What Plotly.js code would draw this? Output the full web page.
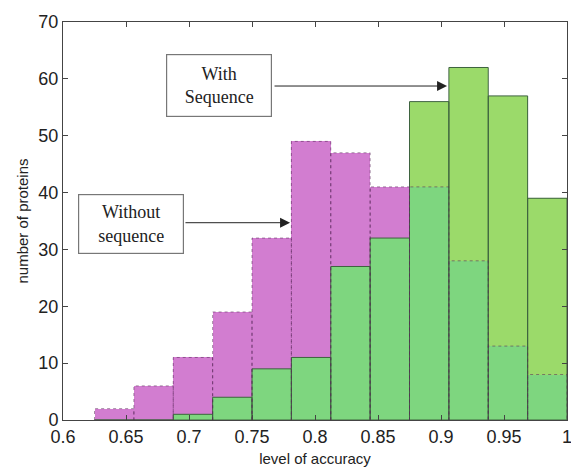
<!DOCTYPE html>
<html>
<head>
<meta charset="utf-8">
<script src="https://cdn.plot.ly/plotly-3.0.1.min.js"></script>
<style>html,body{margin:0;padding:0;background:#fff;}#chart{width:571px;height:468px;}</style>
</head>
<body>
<div id="chart"></div>
<script>
// ---- data ----
const accuracyBins = [0.640625, 0.671875, 0.703125, 0.734375, 0.765625, 0.796875, 0.828125, 0.859375, 0.890625, 0.921875, 0.953125, 0.984375];
const withoutSequence = [2, 6, 11, 19, 32, 49, 47, 41, 41, 28, 13, 8];
const withSequence = [0, 0, 1, 4, 9, 11, 27, 32, 56, 62, 57, 39];
const xTickVals = [0.6, 0.65, 0.7, 0.75, 0.8, 0.85, 0.9, 0.95, 1];
const xTickText = ['0.6', '0.65', '0.7', '0.75', '0.8', '0.85', '0.9', '0.95', '1'];
const yTickVals = [0, 10, 20, 30, 40, 50, 60, 70];
const yTickText = ['0', '10', '20', '30', '40', '50', '60', '70'];
const labelWith = 'With<br>Sequence';
const labelWithout = 'Without<br>sequence';

// ---- styles ----
const binWidth = 1 / 32;
const magenta = '#D27DD0';
const lightGreen = '#9BDA6A';
const midGreen = '#7ED67F';
const greenEdge = '#3E633F';
const axisColor = '#444';

const overlap = withSequence.map((v, i) => Math.min(v, withoutSequence[i]));

// dotted outline path for the "without sequence" bars
const ox = [], oy = [];
accuracyBins.forEach((c, i) => {
  const l = c - binWidth / 2, r = c + binWidth / 2, h = withoutSequence[i];
  ox.push(l, l, r, r, null);
  oy.push(0, h, h, 0, null);
});

const common = {type: 'bar', x: accuracyBins, width: binWidth, hoverinfo: 'skip', showlegend: false};
const traces = [
  Object.assign({}, common, {y: withoutSequence, marker: {color: magenta, line: {width: 0}}}),
  Object.assign({}, common, {y: withSequence, marker: {color: lightGreen, line: {width: 0}}}),
  Object.assign({}, common, {y: overlap, marker: {color: midGreen, line: {width: 0}}}),
  Object.assign({}, common, {y: withSequence, marker: {color: 'rgba(0,0,0,0)', line: {width: 1, color: greenEdge}}}),
  {type: 'scatter', mode: 'lines', x: ox, y: oy, hoverinfo: 'skip', showlegend: false, connectgaps: false,
   line: {color: 'rgba(90,40,90,0.55)', width: 1, dash: 'dot'}}
];

const boxFont = {family: 'Liberation Serif, Times New Roman, serif', size: 18, color: '#222'};
const layout = {
  width: 571, height: 468,
  margin: {l: 63, r: 4, t: 22, b: 48, pad: 0},
  paper_bgcolor: '#fff', plot_bgcolor: '#fff',
  barmode: 'overlay', bargap: 0,
  xaxis: {
    range: [0.6, 1], tickvals: xTickVals, ticktext: xTickText, ticklabeloverflow: 'allow',
    ticks: 'inside', ticklen: 5, tickcolor: axisColor, tickwidth: 1,
    showline: true, linecolor: axisColor, linewidth: 1, mirror: 'allticks',
    showgrid: false, zeroline: false,
    tickfont: {family: 'Liberation Sans, Arial, sans-serif', size: 18, color: '#222'},
    title: {text: 'level of accuracy', font: {family: 'Liberation Sans, Arial, sans-serif', size: 15, color: '#222'}, standoff: 7}
  },
  yaxis: {
    range: [0, 70], tickvals: yTickVals, ticktext: yTickText,
    ticks: 'inside', ticklen: 5, tickcolor: axisColor, tickwidth: 1,
    showline: true, linecolor: axisColor, linewidth: 1, mirror: 'allticks',
    showgrid: false, zeroline: false,
    tickfont: {family: 'Liberation Sans, Arial, sans-serif', size: 18, color: '#222'},
    title: {text: 'number of proteins', font: {family: 'Liberation Sans, Arial, sans-serif', size: 15, color: '#222'}, standoff: 6}
  },
  annotations: [
    {xref: 'x', yref: 'y', x: 0.9048, y: 58.74, ax: 0.7667, ay: 58.74, axref: 'x', ayref: 'y',
     text: '', showarrow: true, arrowhead: 2, arrowsize: 2, arrowwidth: 1, arrowcolor: '#222'},
    {xref: 'x', yref: 'y', x: 0.7802, y: 34.7, ax: 0.696, ay: 34.7, axref: 'x', ayref: 'y',
     text: '', showarrow: true, arrowhead: 2, arrowsize: 2, arrowwidth: 1, arrowcolor: '#222'},
    {xref: 'x', yref: 'y', x: 0.7238, y: 58.8, xanchor: 'center', yanchor: 'middle',
     text: labelWith, showarrow: false, font: boxFont, width: 104, height: 61, borderpad: 0,
     bordercolor: '#777', borderwidth: 1.2, bgcolor: '#fff'},
    {xref: 'x', yref: 'y', x: 0.6536, y: 34.56, xanchor: 'center', yanchor: 'middle',
     text: labelWithout, showarrow: false, font: boxFont, width: 104, height: 58, borderpad: 0,
     bordercolor: '#777', borderwidth: 1.2, bgcolor: '#fff'}
  ]
};

Plotly.newPlot('chart', traces, layout, {staticPlot: true, displayModeBar: false});
</script>
</body>
</html>
